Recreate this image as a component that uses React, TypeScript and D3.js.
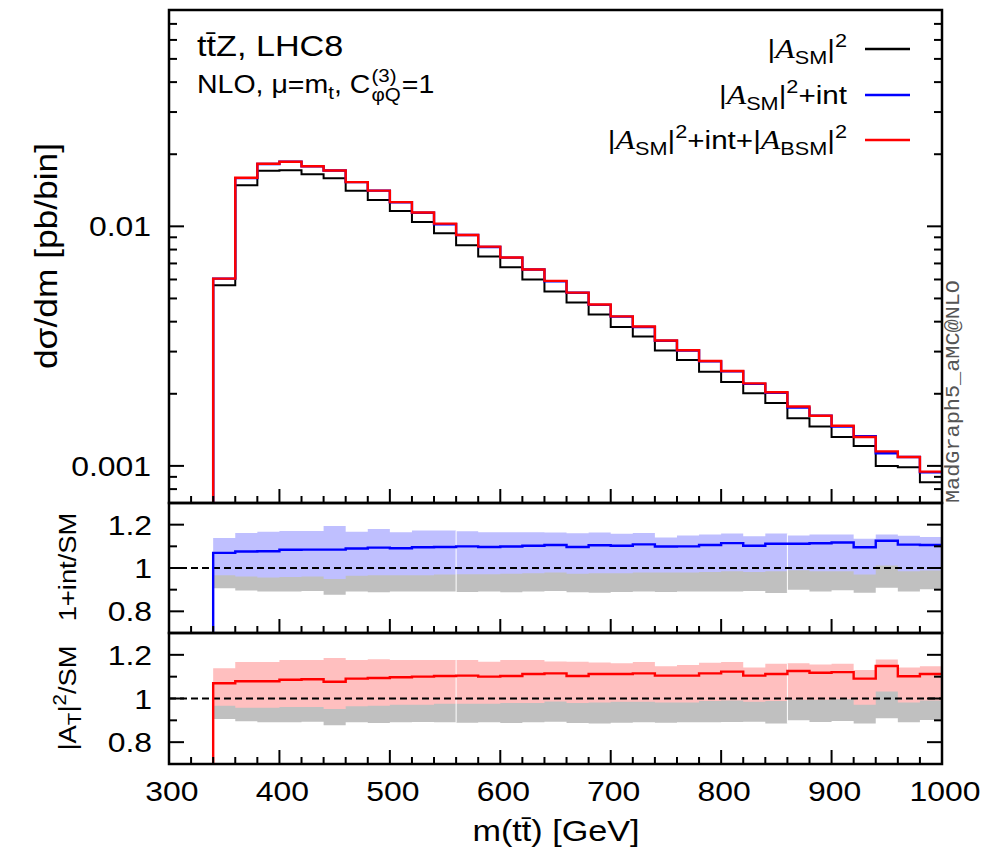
import React, { useLayoutEffect, useRef, useState } from "react";
import * as d3 from "d3";

// ---------------- data ----------------
const binEdges = [340, 360, 380, 400, 420, 440, 460, 480, 500, 520, 540, 560, 580, 600, 620, 640, 660, 680, 700, 720, 740, 760, 780, 800, 820, 840, 860, 880, 900, 920, 940, 960, 980, 1000];

// |A_SM|^2  (black)
const sigmaSM = [0.00568, 0.01486, 0.01706, 0.01716, 0.01651, 0.01589, 0.01409, 0.01288, 0.01158, 0.01042, 0.00935, 0.00834, 0.00748, 0.00675, 0.006, 0.00535, 0.00481, 0.00429, 0.0038, 0.00347, 0.00303, 0.00277, 0.00247, 0.00224, 0.00201, 0.00183, 0.00158, 0.00146, 0.00132, 0.00121, 0.001, 0.000988, 0.000855];
// |A_SM|^2 + int  (blue)
const sigmaSMInt = [0.00605, 0.0159, 0.0182, 0.0186, 0.0178, 0.0171, 0.0153, 0.0141, 0.0126, 0.0114, 0.0102, 0.0092, 0.0082, 0.0074, 0.0066, 0.0059, 0.00528, 0.0047, 0.0042, 0.0038, 0.00333, 0.00303, 0.00273, 0.00248, 0.0022, 0.00202, 0.00175, 0.00162, 0.00146, 0.00133, 0.00113, 0.00109, 0.00094];
// |A_SM|^2 + int + |A_BSM|^2  (red)
const sigmaFull = [0.00605, 0.01596, 0.01824, 0.01861, 0.01782, 0.0171, 0.0153, 0.01409, 0.01262, 0.01143, 0.01026, 0.0092, 0.00823, 0.00741, 0.0066, 0.00592, 0.00529, 0.00472, 0.00421, 0.00382, 0.00334, 0.00304, 0.00274, 0.00249, 0.00221, 0.00203, 0.00177, 0.00162, 0.00147, 0.00132, 0.00115, 0.00109, 0.000946];

// ratio panel 1 : 1+int/SM
const ratioInt = [1.07, 1.076, 1.077, 1.084, 1.085, 1.085, 1.09, 1.094, 1.091, 1.096, 1.097, 1.1, 1.097, 1.099, 1.103, 1.106, 1.097, 1.105, 1.103, 1.109, 1.099, 1.1, 1.106, 1.115, 1.103, 1.112, 1.112, 1.114, 1.118, 1.096, 1.126, 1.108, 1.106];
const ratioIntUp = [1.138, 1.161, 1.167, 1.171, 1.171, 1.194, 1.167, 1.18, 1.165, 1.173, 1.173, 1.17, 1.165, 1.165, 1.165, 1.164, 1.16, 1.164, 1.158, 1.161, 1.141, 1.15, 1.155, 1.159, 1.147, 1.159, 1.15, 1.155, 1.155, 1.135, 1.155, 1.149, 1.143];
const ratioIntDn = [0.967, 0.961, 0.956, 0.958, 0.961, 0.949, 0.964, 0.967, 0.967, 0.967, 0.97, 0.971, 0.971, 0.973, 0.976, 0.979, 0.974, 0.976, 0.976, 0.979, 0.979, 0.979, 0.982, 0.985, 0.982, 0.985, 0.99, 0.985, 0.985, 0.97, 1.012, 0.985, 0.988];

// ratio panel 2 : |A_T|^2/SM
const ratioFull = [1.07, 1.079, 1.079, 1.086, 1.088, 1.077, 1.091, 1.094, 1.097, 1.1, 1.103, 1.105, 1.1, 1.103, 1.112, 1.115, 1.103, 1.112, 1.112, 1.115, 1.105, 1.105, 1.115, 1.123, 1.105, 1.112, 1.126, 1.118, 1.121, 1.091, 1.149, 1.102, 1.112];
const ratioFullUp = [1.138, 1.167, 1.167, 1.176, 1.176, 1.185, 1.176, 1.18, 1.176, 1.176, 1.176, 1.176, 1.168, 1.176, 1.176, 1.17, 1.168, 1.165, 1.161, 1.167, 1.148, 1.153, 1.164, 1.167, 1.142, 1.159, 1.161, 1.156, 1.159, 1.13, 1.179, 1.142, 1.148];
const ratioFullDn = [0.967, 0.958, 0.958, 0.961, 0.961, 0.952, 0.964, 0.967, 0.971, 0.971, 0.976, 0.976, 0.976, 0.979, 0.979, 0.986, 0.979, 0.982, 0.985, 0.985, 0.982, 0.982, 0.989, 0.991, 0.985, 0.988, 0.994, 0.994, 0.997, 0.971, 1.032, 0.982, 0.991];

// SM uncertainty band (grey)
const smBandDn = [0.906, 0.896, 0.891, 0.891, 0.894, 0.877, 0.891, 0.888, 0.891, 0.892, 0.891, 0.889, 0.891, 0.888, 0.891, 0.894, 0.888, 0.886, 0.889, 0.891, 0.889, 0.891, 0.891, 0.892, 0.894, 0.885, 0.9, 0.892, 0.897, 0.886, 0.909, 0.891, 0.902];
const smBandUp = [1.04, 1.04, 1.04, 1.04, 1.04, 1.04, 1.04, 1.04, 1.04, 1.04, 1.04, 1.04, 1.04, 1.04, 1.04, 1.04, 1.04, 1.04, 1.04, 1.04, 1.04, 1.04, 1.04, 1.04, 1.04, 1.04, 1.04, 1.04, 1.04, 1.04, 1.04, 1.04, 1.04];

const seamEdges = [560, 860];

const xTickLabels = [300, 400, 500, 600, 700, 800, 900, 1000];
const mainYLabels = [
  { v: 0.01, t: "0.01" },
  { v: 0.001, t: "0.001" },
];
const ratioYTicks = [0.8, 0.9, 1.0, 1.1, 1.2];
const ratioYLabels = [
  { v: 1.2, t: "1.2" },
  { v: 1.0, t: "1" },
  { v: 0.8, t: "0.8" },
];

// ---------------- layout ----------------
const W = 987;
const H = 856;
const L = 169;
const R = 942;
const mainTop = 10;
const mainBot = 503;
const r1Bot = 633;
const r2Bot = 764;
const FONT = "'Liberation Sans', Arial, Helvetica, sans-serif";
const SERIF = "'Liberation Serif', 'DejaVu Serif', serif";
const SX = 1.14; // horizontal stretch of the reference typeface

const COL_BLUE = "#0000ff";
const COL_RED = "#ff0000";
const BAND_BLUE = "#bfbfff";
const BAND_RED = "#ffbfbf";
const BAND_GREY = "#c0c0c0";

const x = d3.scaleLinear().domain([300, 1000]).range([L, R]);
const yMain = d3.scaleLog().domain([0.0007, 0.08]).range([mainBot, mainTop]);
const yR1 = d3.scaleLinear().domain([0.7, 1.3]).range([r1Bot, mainBot]);
const yR2 = d3.scaleLinear().domain([0.7, 1.3]).range([r2Bot, r1Bot]);

function tf(px: number, py: number, rot = false) {
  return `translate(${px},${py})${rot ? " rotate(-90)" : ""} scale(${SX},1)`;
}

function stepPts(vals: number[], floor: number): [number, number][] {
  const pts: [number, number][] = [[binEdges[0], floor]];
  vals.forEach((v, i) => pts.push([binEdges[i], v]));
  pts.push([binEdges[vals.length], vals[vals.length - 1]]);
  return pts;
}

function stepPath(vals: number[], y: any, floor: number) {
  return d3
    .line<[number, number]>()
    .x((d) => x(d[0]))
    .y((d) => y(d[1]))
    .curve(d3.curveStepAfter)(stepPts(vals, floor)) as string;
}

function bandPath(lo: number[], hi: number[], y: any) {
  const pts: [number, number, number][] = lo.map((v, i) => [binEdges[i], v, hi[i]]);
  pts.push([binEdges[lo.length], lo[lo.length - 1], hi[hi.length - 1]]);
  return d3
    .area<[number, number, number]>()
    .x((d) => x(d[0]))
    .y0((d) => y(d[1]))
    .y1((d) => y(d[2]))
    .curve(d3.curveStepAfter)(pts) as string;
}

const xMinor = d3.range(300, 1001, 20);
const xMajorSet = new Set(xTickLabels);

function XTicks({ bottom }: { bottom: number }) {
  return (
    <g stroke="#000" strokeWidth={2}>
      {xMinor.map((v) => {
        const len = xMajorSet.has(v) ? 14 : 7;
        return <line key={v} x1={x(v)} x2={x(v)} y1={bottom} y2={bottom - len} />;
      })}
    </g>
  );
}

function YTicks({ ticks, y, isMajor }: { ticks: number[]; y: any; isMajor: (v: number) => boolean }) {
  return (
    <g stroke="#000" strokeWidth={2}>
      {ticks.map((v, i) => {
        const len = isMajor(v) ? 15 : 8;
        const yy = y(v);
        return (
          <g key={i}>
            <line x1={L} x2={L + len} y1={yy} y2={yy} />
            <line x1={R} x2={R - len} y1={yy} y2={yy} />
          </g>
        );
      })}
    </g>
  );
}

function Seams({ up, y }: { up: number[]; y: any }) {
  return (
    <g stroke="#fff" strokeWidth={1}>
      {seamEdges.map((e) => {
        const i = binEdges.indexOf(e);
        const top = Math.max(up[i - 1], up[i]);
        const bot = Math.min(smBandDn[i - 1], smBandDn[i]);
        return <line key={e} x1={x(e)} x2={x(e)} y1={y(top)} y2={y(bot)} />;
      })}
    </g>
  );
}

function RatioPanel({ y, top, bottom, line, up, dn, bandCol, lineCol, clipId }: any) {
  return (
    <g>
      <defs>
        <clipPath id={clipId}>
          <rect x={L} y={top} width={R - L} height={bottom - top} />
        </clipPath>
      </defs>
      <g clipPath={`url(#${clipId})`}>
        <path d={bandPath(smBandDn, smBandUp, y)} fill={BAND_GREY} />
        <path d={bandPath(dn, up, y)} fill={bandCol} />
        <Seams up={up} y={y} />
        <line x1={L} x2={R} y1={y(1)} y2={y(1)} stroke="#000" strokeWidth={2} strokeDasharray="7,4" />
        <path d={stepPath(line, y, 0.5)} fill="none" stroke={lineCol} strokeWidth={2.4} />
      </g>
      <XTicks bottom={bottom} />
      <YTicks ticks={ratioYTicks} y={y} isMajor={(v) => Math.abs(v - 1.2) < 1e-6 || Math.abs(v - 0.8) < 1e-6 || Math.abs(v - 1) < 1e-6} />
      <rect x={L} y={top} width={R - L} height={bottom - top} fill="none" stroke="#000" strokeWidth={2.5} />
      <g fontFamily={FONT} fontSize={28} textAnchor="end">
        {ratioYLabels.map((d) => (
          <text key={d.t} transform={tf(152, y(d.v) + 10)}>
            {d.t}
          </text>
        ))}
      </g>
    </g>
  );
}

function LegendLabel({ row }: { row: number }) {
  const base = 26;
  const sub = 19;
  const A = (
    <tspan fontFamily={SERIF} fontStyle="italic" fontSize={28}>
      A
    </tspan>
  );
  if (row === 0)
    return (
      <>
        <tspan>|</tspan>
        {A}
        <tspan fontSize={sub} dy={6}>SM</tspan>
        <tspan dy={-6}>|</tspan>
        <tspan fontSize={sub} dy={-11}>2</tspan>
      </>
    );
  if (row === 1)
    return (
      <>
        <tspan>|</tspan>
        {A}
        <tspan fontSize={sub} dy={6}>SM</tspan>
        <tspan dy={-6}>|</tspan>
        <tspan fontSize={sub} dy={-11}>2</tspan>
        <tspan fontSize={base} dy={11}>+int</tspan>
      </>
    );
  return (
    <>
      <tspan>|</tspan>
      {A}
      <tspan fontSize={sub} dy={6}>SM</tspan>
      <tspan dy={-6}>|</tspan>
      <tspan fontSize={sub} dy={-11}>2</tspan>
      <tspan fontSize={base} dy={11}>+int+|</tspan>
      {A}
      <tspan fontSize={sub} dy={6}>BSM</tspan>
      <tspan dy={-6}>|</tspan>
      <tspan fontSize={sub} dy={-11}>2</tspan>
    </>
  );
}

const legendColors = ["#000000", COL_BLUE, COL_RED];
const legendRowsY = [49, 95, 140];

export default function App() {
  const preRef = useRef<SVGTextElement>(null);
  const supRef = useRef<SVGTextElement>(null);
  const subRef = useRef<SVGTextElement>(null);
  const [m, setM] = useState({ pre: 180, sup: 22, sub: 25 });

  useLayoutEffect(() => {
    if (preRef.current && supRef.current && subRef.current) {
      setM({
        pre: preRef.current.getBBox().width,
        sup: supRef.current.getBBox().width,
        sub: subRef.current.getBBox().width,
      });
    }
  }, []);

  const x0 = 197;
  const y2 = 93;
  const cx = m.pre + 1;

  const mainYTicks = yMain.ticks();

  return (
    <svg width={W} height={H} style={{ display: "block", position: "absolute", left: 0, top: 0 }}>
      <rect x={0} y={0} width={W} height={H} fill="#fff" />
      <defs>
        <clipPath id="clipMain">
          <rect x={L} y={mainTop} width={R - L} height={mainBot - mainTop} />
        </clipPath>
      </defs>

      {/* main panel */}
      <g clipPath="url(#clipMain)" fill="none">
        <path d={stepPath(sigmaSM, yMain, 1e-5)} stroke="#000" strokeWidth={2} />
        <path d={stepPath(sigmaSMInt, yMain, 1e-5)} stroke={COL_BLUE} strokeWidth={2.4} />
        <path d={stepPath(sigmaFull, yMain, 1e-5)} stroke={COL_RED} strokeWidth={2.4} />
      </g>
      <XTicks bottom={mainBot} />
      <YTicks ticks={mainYTicks} y={yMain} isMajor={(v) => Math.abs(Math.log10(v) - Math.round(Math.log10(v))) < 1e-6} />
      <rect x={L} y={mainTop} width={R - L} height={mainBot - mainTop} fill="none" stroke="#000" strokeWidth={2.5} />
      <g fontFamily={FONT} fontSize={28} textAnchor="end">
        {mainYLabels.map((d) => (
          <text key={d.t} transform={tf(151, yMain(d.v) + 10)}>
            {d.t}
          </text>
        ))}
      </g>

      {/* ratio panels */}
      <RatioPanel y={yR1} top={mainBot} bottom={r1Bot} line={ratioInt} up={ratioIntUp} dn={ratioIntDn} bandCol={BAND_BLUE} lineCol={COL_BLUE} clipId="clipR1" />
      <RatioPanel y={yR2} top={r1Bot} bottom={r2Bot} line={ratioFull} up={ratioFullUp} dn={ratioFullDn} bandCol={BAND_RED} lineCol={COL_RED} clipId="clipR2" />

      {/* x tick labels */}
      <g fontFamily={FONT} fontSize={28} textAnchor="middle">
        {xTickLabels.map((v) => (
          <text key={v} transform={tf(x(v) + 3, 801)}>
            {v}
          </text>
        ))}
      </g>
      <text transform={tf(556, 841)} fontFamily={FONT} fontSize={30} textAnchor="middle">
        m(tt&#772;) [GeV]
      </text>

      {/* y axis titles */}
      <text transform={tf(57, 256, true)} fontFamily={FONT} fontSize={31} textAnchor="middle">
        dσ/dm [pb/bin]
      </text>
      <text transform={tf(76, 567, true)} fontFamily={FONT} fontSize={24} textAnchor="middle">
        1+int/SM
      </text>
      <text transform={tf(76, 698, true)} fontFamily={FONT} fontSize={24} textAnchor="middle">
        <tspan>|A</tspan>
        <tspan fontSize={18} dy={5}>T</tspan>
        <tspan dy={-5}>|</tspan>
        <tspan fontSize={18} dy={-10}>2</tspan>
        <tspan dy={10}>/SM</tspan>
      </text>

      {/* title */}
      <text transform={tf(x0, 56)} fontFamily={FONT} fontSize={30}>
        tt&#772;Z, LHC8
      </text>
      <g transform={tf(x0, y2)} fontFamily={FONT} fontSize={25}>
        <text ref={preRef} x={0} y={0}>
          <tspan>NLO, μ=m</tspan>
          <tspan fontSize={18} dy={6}>t</tspan>
          <tspan dy={-6}>, C</tspan>
        </text>
        <text ref={supRef} x={cx} y={-11} fontSize={18}>
          (3)
        </text>
        <text ref={subRef} x={cx} y={8} fontSize={18}>
          φQ
        </text>
        <text x={cx + Math.max(m.sup, m.sub) + 1} y={0}>
          =1
        </text>
      </g>

      {/* legend */}
      <g fontFamily={FONT} fontSize={26}>
        {legendRowsY.map((ly, i) => (
          <g key={i}>
            <text transform={tf(847, ly + 9)} textAnchor="end">
              <LegendLabel row={i} />
            </text>
            <line x1={865} x2={910} y1={ly} y2={ly} stroke={legendColors[i]} strokeWidth={2.4} />
          </g>
        ))}
      </g>

      {/* generator label */}
      <text transform="translate(959,503) rotate(-90)" fontFamily="'Liberation Mono', 'DejaVu Sans Mono', monospace" fontSize={20} fill="#555" textLength={223} lengthAdjust="spacingAndGlyphs">
        MadGraph5_aMC@NLO
      </text>
    </svg>
  );
}
